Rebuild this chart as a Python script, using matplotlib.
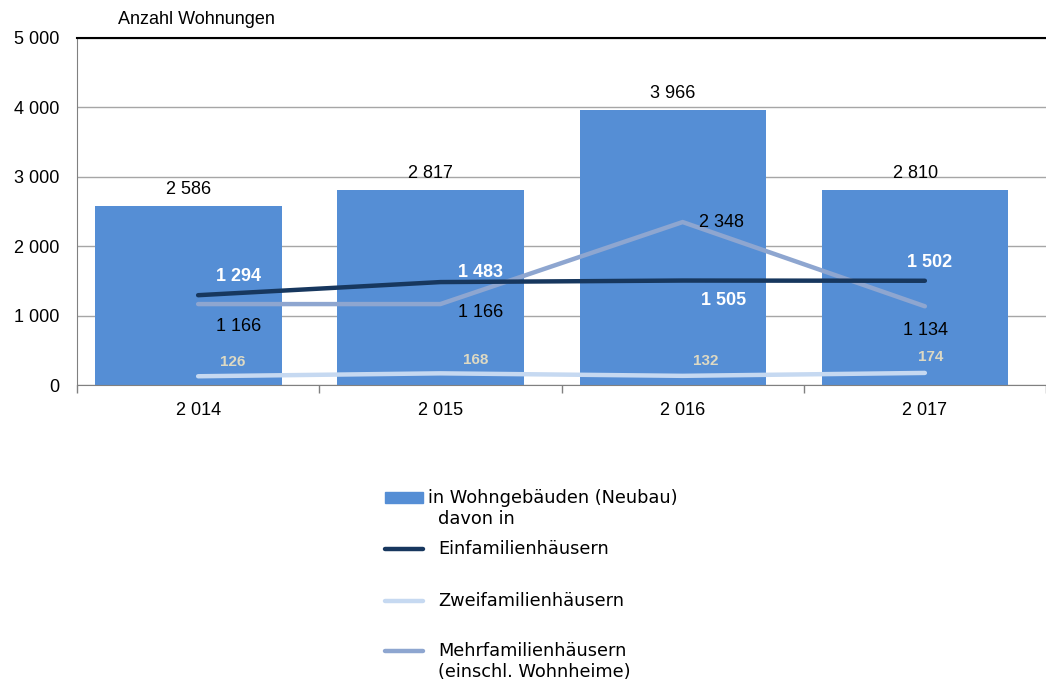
import matplotlib
matplotlib.use("Agg")
import matplotlib.pyplot as plt
from matplotlib.lines import Line2D
from matplotlib.patches import Rectangle
from matplotlib.ticker import FuncFormatter, FixedLocator
import numpy as np

plt.rcParams['font.family'] = ['Liberation Sans', 'DejaVu Sans']

years = ["2 014", "2 015", "2 016", "2 017"]
total = [2586, 2817, 3966, 2810]
einfamilien = [1294, 1483, 1505, 1502]
zweifamilien = [126, 168, 132, 174]
mehrfamilien = [1166, 1166, 2348, 1134]

legend_labels = ["in Wohngebäuden (Neubau)", "davon in", "Einfamilienhäusern",
                 "Zweifamilienhäusern", "Mehrfamilienhäusern", "(einschl. Wohnheime)"]

BAR = "#558ED5"
DARK = "#17375E"
LIGHT = "#C6D9F1"
MID = "#8EA6D0"
BEIGE = "#DDD9C3"
FS = 13

W, H = 1046, 684
fig = plt.figure(figsize=(W / 100, H / 100), dpi=100)
ax = fig.add_axes([77 / W, (H - 385) / H, (W - 77) / W, (385 - 38) / H])

x = np.arange(len(years))
ax.bar(x - 0.04, total, width=0.77, color=BAR, zorder=2)
ax.plot(x, mehrfamilien, color=MID, lw=3.2, solid_capstyle='round', zorder=3)
ax.plot(x, einfamilien, color=DARK, lw=3.2, solid_capstyle='round', zorder=4)
ax.plot(x, zweifamilien, color=LIGHT, lw=3.2, solid_capstyle='round', zorder=3)

ax.set_ylim(0, 5000)
ax.set_xlim(-0.5, -0.5 + (W - 77) / 245)

def fmt(v, pos=None):
    return f"{int(round(v)):,}".replace(",", " ")

ax.yaxis.set_major_locator(FixedLocator([0, 1000, 2000, 3000, 4000, 5000]))
ax.yaxis.set_major_formatter(FuncFormatter(fmt))
ax.grid(axis='y', color="#A6A6A6", lw=1.0, zorder=0)
ax.set_axisbelow(True)
ax.tick_params(axis='y', length=0, pad=13, labelsize=FS)

ax.set_xticks(x)
ax.set_xticklabels(years)
ax.set_xticks(np.arange(-0.5, 3.6, 1.0), minor=True)
ax.tick_params(axis='x', which='major', length=0, pad=12, labelsize=FS)
ax.tick_params(axis='x', which='minor', length=6, color="#808080", width=1)

ax.spines['right'].set_visible(False)
ax.spines['top'].set_color('black')
ax.spines['top'].set_linewidth(1.5)
ax.spines['left'].set_color('#808080')
ax.spines['bottom'].set_color('#808080')

# bar labels
for xi, v in zip(x, total):
    ax.annotate(fmt(v), (xi - 0.04, v), xytext=(0, 16), textcoords='offset pixels',
                ha='center', va='center', fontsize=FS, color='black')

# line labels with individual offsets (pixels, y up)
off_e = [(40, 19), (40, 10), (41, -20), (5, 18)]
off_z = [(35, 14), (35, 13), (23, 15), (6, 16)]
off_m = [(40, -22), (40, -8), (39, 0), (1, -24)]
for xi, v, o in zip(x, einfamilien, off_e):
    ax.annotate(fmt(v), (xi, v), xytext=o, textcoords='offset pixels',
                ha='center', va='center', fontsize=FS, color='white', fontweight='bold', zorder=6)
for xi, v, o in zip(x, zweifamilien, off_z):
    ax.annotate(fmt(v), (xi, v), xytext=o, textcoords='offset pixels',
                ha='center', va='center', fontsize=11, color=BEIGE, fontweight='bold', zorder=6)
for xi, v, o in zip(x, mehrfamilien, off_m):
    ax.annotate(fmt(v), (xi, v), xytext=o, textcoords='offset pixels',
                ha='center', va='center', fontsize=FS, color='black', zorder=6)

fig.text(118 / W, 1 - 20 / H, "Anzahl Wohnungen", ha='left', va='center', fontsize=FS)

# manual legend
def fx(px):
    return px / W

def fy(py):
    return 1 - py / H

LFONT = ['DejaVu Sans']
LFS = 12.8
fig.patches.append(Rectangle((fx(385), fy(503)), 38 / W, 11 / H, transform=fig.transFigure,
                             color=BAR, figure=fig))
fig.text(fx(428), fy(498), legend_labels[0], ha='left', va='center', fontsize=LFS, family=LFONT)
fig.text(fx(438), fy(519), legend_labels[1], ha='left', va='center', fontsize=LFS, family=LFONT)
for py, col, lab in [(549, DARK, legend_labels[2]), (601, LIGHT, legend_labels[3]), (651, MID, legend_labels[4])]:
    fig.lines.append(Line2D([fx(385), fx(423)], [fy(py), fy(py)], transform=fig.transFigure,
                            color=col, lw=3.2, solid_capstyle='round', figure=fig))
    fig.text(fx(438), fy(py), lab, ha='left', va='center', fontsize=LFS, family=LFONT)
fig.text(fx(438), fy(672), legend_labels[5], ha='left', va='center', fontsize=LFS, family=LFONT)

fig.savefig("out.png", dpi=100)
